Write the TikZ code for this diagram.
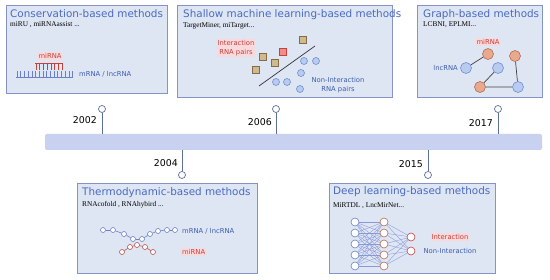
\documentclass[tikz,border=0pt]{standalone}
\usepackage{fontspec}
\setmainfont{DejaVu Sans}
\newfontfamily\refserif{Liberation Serif}
\usetikzlibrary{positioning}

\definecolor{panelfill}{HTML}{DEE6F4}
\definecolor{panelline}{HTML}{8593C6}
\definecolor{titleblue}{HTML}{4A6AC2}
\definecolor{barfill}{HTML}{C9D1F1}
\definecolor{pinline}{HTML}{5D6E9F}
\definecolor{labred}{HTML}{C8403A}
\definecolor{labpink}{HTML}{F8DADD}
\definecolor{labblue}{HTML}{3D5DAE}
\definecolor{tanfill}{HTML}{CBBB90}
\definecolor{tanline}{HTML}{8A6A45}
\definecolor{sqred}{HTML}{F08C8C}
\definecolor{dotfill}{HTML}{B9CBEF}
\definecolor{dotline}{HTML}{6F8ED6}
\definecolor{orfill}{HTML}{E8AA8E}
\definecolor{orline}{HTML}{B86A50}
\definecolor{strandblue}{HTML}{6A80C8}
\definecolor{strandred}{HTML}{B8504A}
\definecolor{netline}{HTML}{8A98D6}

\begin{document}
\begin{tikzpicture}[x=1pt, y=-1pt,
  panel/.style={draw=panelline, fill=panelfill, line width=0.8pt},
  heading/.style={anchor=west, inner sep=0, text=titleblue, font=\fontsize{10.4}{12}\selectfont},
  refs/.style={anchor=west, inner sep=0, font=\refserif\fontsize{7.3}{8}\selectfont},
  pin/.style={circle, draw=pinline, fill=white, line width=0.7pt, minimum size=7pt, inner sep=0},
  stem/.style={draw=pinline, line width=1pt},
  year/.style={anchor=east, inner sep=0, font=\fontsize{9.4}{11}\selectfont},
  redlab/.style={text=labred, fill=labpink, inner sep=1pt, align=center, font=\fontsize{6.8}{8.5}\selectfont},
  bluelab/.style={text=labblue, inner sep=1pt, align=center, font=\fontsize{6.8}{8.5}\selectfont},
  square/.style={rectangle, draw=tanline, fill=tanfill, line width=0.6pt, minimum size=7pt, inner sep=0},
  dot/.style={circle, draw=dotline, fill=dotfill, line width=0.6pt, minimum size=7pt, inner sep=0},
  gnode/.style={circle, draw=dotline, fill=dotfill, line width=0.6pt, minimum size=11pt, inner sep=0},
  bead/.style={circle, draw=strandblue, fill=white, line width=0.6pt, minimum size=5pt, inner sep=0},
  neuron/.style={circle, draw=orline, fill=white, line width=0.6pt, minimum size=8pt, inner sep=0}
]
\useasboundingbox (0,0) rectangle (550,280);

% panels
\draw[panel] (6,5) rectangle (167,93);
\draw[panel] (177,5) rectangle (392,97);
\draw[panel] (417,5) rectangle (542,97);
\draw[panel] (77,183) rectangle (257,273);
\draw[panel] (329,183) rectangle (495,273);

% time line
\node[fill=barfill, rounded corners=2pt, minimum width=497pt, minimum height=16pt, inner sep=0] (bar) at (293.5,142) {};

\node[pin] (p2002) at (102,109) {};
\node[pin] (p2006) at (276,109) {};
\node[pin] (p2017) at (498,109) {};
\node[pin] (p2004) at (182,175) {};
\node[pin] (p2015) at (428,175) {};
\foreach \y in {2002,2006,2017}
  \draw[stem] (p\y) -- (p\y |- bar.north);
\foreach \y in {2004,2015}
  \draw[stem] (bar.south -| p\y) -- (p\y);

\node[year] (y2002) at (97,120) {2002};
\node[year] (y2006) at (272,122) {2006};
\node[year] (y2017) at (493,123) {2017};
\node[year] (y2004) at (178,163) {2004};
\node[year] (y2015) at (423,164) {2015};

% conservation
\node[heading] (t1) at (10,14) {Conservation-based methods};
\node[refs] (r1) at (10,25) {miRU , miRNAassist ...};
\node[redlab] (mir1) at (50,56) {miRNA};
\draw[labred, line width=0.6pt] (35,63) -- (63,63);
\foreach \i in {0,...,7}
  \draw[labred, line width=0.5pt] (36+\i*3.7,63) -- (36+\i*3.7,70);
\draw[strandblue, line width=0.6pt] (16,77) -- (73,77);
\foreach \i in {0,...,15}
  \draw[strandblue, line width=0.5pt] (17+\i*3.7,71.5) -- (17+\i*3.7,77);
\node[bluelab, anchor=west] (m1) at (78,74) {mRNA / lncRNA};

% shallow learning
\node[heading] (t2) at (183,15) {Shallow machine learning-based methods};
\node[refs] (r2) at (183,26) {TargetMiner, miTarget...};
\node[redlab] (pos) at (236,48) {Interaction\\RNA pairs};
\node[square] (s1) at (303,40) {};
\node[square, draw=labred, fill=sqred] (s2) at (283,52) {};
\node[square] (s3) at (263,57) {};
\node[square] (s4) at (275,63) {};
\node[square] (s5) at (256,70) {};
\coordinate (cutA) at (259,86);
\coordinate (cutB) at (315,46);
\draw[black!80, line width=0.7pt] (cutA) -- (cutB);
\node[dot] (c1) at (304,61) {};
\node[dot] (c2) at (316,61) {};
\node[dot] (c3) at (301,73) {};
\node[dot] (c4) at (276,82) {};
\node[dot] (c5) at (287,82) {};
\node[dot] (c6) at (300,89) {};
\node[bluelab] (neg) at (338,85) {Non-Interaction\\RNA pairs};

% graph
\node[heading] (t3) at (423,15) {Graph-based methods};
\node[refs] (r3) at (423,25) {LCBNI, EPLMI...};
\node[gnode, draw=orline, fill=orfill] (g1) at (488,54) {};
\node[gnode] (g2) at (466,68) {};
\node[gnode] (g3) at (498,68) {};
\node[gnode, draw=orline, fill=orfill] (g4) at (515,56) {};
\node[gnode, draw=orline, fill=orfill] (g5) at (480,87) {};
\node[gnode] (g6) at (518,87) {};
\draw[black!75, line width=0.7pt] (g1) -- (g2) (g3) -- (g5) (g5) -- (g6) (g6) -- (g4);
\node[redlab] (mir3) at (488,42) {miRNA};
\node[bluelab, anchor=east] (lnc3) at (459,68) {lncRNA};

% thermodynamic
\node[heading] (t4) at (82,193) {Thermodynamic-based methods};
\node[refs] (r4) at (82,205) {RNAcofold , RNAhybird ...};
\foreach \x/\y [count=\k] in {103/230,113/230,124/234,133/239,142/239,150/234,158/231,167/230,175/230}
  \node[bead] (b\k) at (\x,\y) {};
\foreach \k [evaluate=\k as \j using int(\k+1)] in {1,...,8}
  \draw[strandblue, line width=0.6pt] (b\k) -- (b\j);
\foreach \x/\y [count=\k] in {122/252,130/247,137/245,145/247,153/252}
  \node[bead, draw=strandred] (d\k) at (\x,\y) {};
\foreach \k [evaluate=\k as \j using int(\k+1)] in {1,...,4}
  \draw[strandred, line width=0.6pt] (d\k) -- (d\j);
\node[bluelab, anchor=west] (m4) at (181,231) {mRNA / lncRNA};
\node[redlab, anchor=west] (mir4) at (181,252) {miRNA};

% deep learning
\node[heading] (t5) at (333,192) {Deep learning-based methods};
\node[refs] (r5) at (333,206) {MiRTDL , LncMirNet...};
\foreach \k in {1,...,5} {
  \node[neuron, draw=strandblue] (i\k) at (355,{211+\k*11}) {};
  \node[neuron] (h\k) at (384,{211+\k*11}) {};
}
\node[neuron, draw=labred] (o1) at (411,237) {};
\node[neuron, draw=labred] (o2) at (411,251) {};
\foreach \a in {1,...,5} {
  \foreach \b in {1,...,5}
    \draw[netline, line width=0.35pt] (i\a) -- (h\b);
  \draw[netline, line width=0.35pt] (h\a) -- (o1);
  \draw[netline, line width=0.35pt] (h\a) -- (o2);
}
\node[redlab] (yes) at (450,237) {Interaction};
\node[bluelab] (no) at (450,251) {Non-Interaction};

\end{tikzpicture}
\end{document}
